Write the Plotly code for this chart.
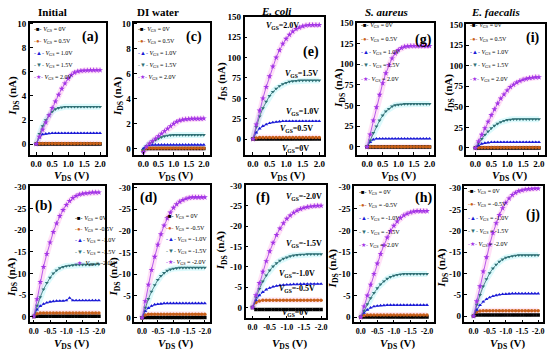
import plotly.graph_objects as go

W, H = 550, 352

VDS_POS = [0.0, 0.1, 0.2, 0.3, 0.4, 0.5, 0.6, 0.7, 0.8, 0.9, 1.0,
           1.1, 1.2, 1.3, 1.4, 1.5, 1.6, 1.7, 1.8, 1.9, 2.0]
VDS_NEG = [0.0, -0.1, -0.2, -0.3, -0.4, -0.5, -0.6, -0.7, -0.8, -0.9, -1.0,
           -1.1, -1.2, -1.3, -1.4, -1.5, -1.6, -1.7, -1.8, -1.9, -2.0]

# ---- (a) Initial, positive V_GS ----
a_0 = [0, 0, 0, 0, 0, 0, 0, 0, 0, 0, 0, 0, 0, 0, 0, 0, 0, 0, 0, 0, 0]
a_05 = [0, 0.05, 0.05, 0.05, 0.05, 0.05, 0.05, 0.05, 0.05, 0.05, 0.05, 0.05, 0.05, 0.05, 0.05, 0.05, 0.05, 0.05, 0.05, 0.05, 0.05]
a_10 = [0, 0.55, 0.8, 0.85, 0.88, 0.9, 0.9, 0.9, 0.9, 0.9, 0.9, 0.9, 0.9, 0.9, 0.9, 0.9, 0.9, 0.9, 0.9, 0.9, 0.9]
a_15 = [0, 0.85, 1.5, 2.0, 2.4, 2.7, 2.9, 3.0, 3.05, 3.1, 3.1, 3.1, 3.1, 3.1, 3.1, 3.1, 3.1, 3.1, 3.1, 3.1, 3.1]
a_20 = [0, 0.6, 1.2, 1.8, 2.4, 3.0, 3.55, 4.1, 4.6, 5.05, 5.45, 5.75, 5.95, 6.05, 6.1, 6.12, 6.13, 6.15, 6.15, 6.15, 6.15]

# ---- (c) DI water, positive V_GS ----
c_0 = [-0.2, 0, 0, 0, 0, 0, 0, 0, 0, 0, 0, 0, 0, 0, 0, 0, 0, 0, 0, 0, 0]
c_05 = [-0.1, 0.02, 0.03, 0.03, 0.03, 0.03, 0.03, 0.03, 0.03, 0.03, 0.03, 0.03, 0.03, 0.03, 0.03, 0.03, 0.03, 0.03, 0.03, 0.03, 0.03]
c_10 = [0, 0.2, 0.28, 0.3, 0.3, 0.3, 0.3, 0.3, 0.3, 0.3, 0.3, 0.3, 0.3, 0.3, 0.3, 0.3, 0.3, 0.3, 0.3, 0.3, 0.3]
c_15 = [-0.1, 0.2, 0.4, 0.55, 0.7, 0.82, 0.92, 1.0, 1.05, 1.08, 1.1, 1.1, 1.1, 1.1, 1.1, 1.1, 1.1, 1.1, 1.1, 1.1, 1.1]
c_20 = [-0.3, 0.15, 0.4, 0.6, 0.8, 1.0, 1.2, 1.4, 1.6, 1.8, 2.0, 2.15, 2.25, 2.32, 2.36, 2.38, 2.4, 2.4, 2.4, 2.4, 2.42]

# ---- (e) E. coli, positive V_GS ----
e_0 = [0, 0, 0, 0, 0, 0, 0, 0, 0, 0, 0, 0, 0, 0, 0, 0, 0, 0, 0, 0, 0]
e_05 = [0, 1.5, 2, 2, 2, 2, 2, 2, 2, 2, 2, 2, 2, 2, 2, 2, 2, 2, 2, 2, 2]
e_10 = [0, 8, 13, 16, 18, 19.5, 20.5, 21, 21.5, 22, 22, 22, 22, 22, 22, 22, 22, 22, 22, 22, 22]
e_15 = [0, 15, 28, 38, 46, 53, 58, 62, 65, 67.5, 69, 70.5, 71, 71.5, 72, 72, 72, 72, 72, 72, 72]
e_20 = [0, 18, 35, 50, 64, 77, 89, 100, 109, 117, 123, 128, 132, 135, 137, 138.5, 139.5, 140, 140, 140, 140]

# ---- (g) S. aureus, positive V_GS ----
g_0 = [0, 0, 0, 0, 0, 0, 0, 0, 0, 0, 0, 0, 0, 0, 0, 0, 0, 0, 0, 0, 0]
g_05 = [0, 0.3, 0.3, 0.3, 0.3, 0.3, 0.3, 0.3, 0.3, 0.3, 0.3, 0.3, 0.3, 0.3, 0.3, 0.3, 0.3, 0.3, 0.3, 0.3, 0.3]
g_10 = [0, 6, 9, 10, 10, 10, 10, 10, 10, 10, 10, 10, 10, 10, 10, 10, 10, 10, 10, 10, 10]
g_15 = [0, 8, 17, 25, 32, 38, 43, 46, 49, 50.5, 51, 51.5, 52, 52, 52, 52, 52, 52, 52, 52, 52]
g_20 = [0, 15, 32, 48, 63, 77, 89, 99, 107, 113, 117, 119.5, 121, 121.5, 122, 122, 122, 122, 122, 122, 122]

# ---- (i) E. faecalis, positive V_GS ----
i_0 = [0, 0, 0, 0, 0, 0, 0, 0, 0, 0, 0, 0, 0, 0, 0, 0, 0, 0, 0, 0, 0]
i_05 = [0, 0.5, 0.5, 0.5, 0.5, 0.5, 0.5, 0.5, 0.5, 0.5, 0.5, 0.5, 0.5, 0.5, 0.5, 0.5, 0.5, 0.5, 0.5, 0.5, 0.5]
i_10 = [0, 3, 5, 6, 6.5, 7, 7, 7, 7, 7, 7, 7, 7, 7, 7, 7, 7, 7, 7, 7, 7]
i_15 = [0, 6, 11, 16, 20, 24, 27, 29.5, 31.5, 33, 34, 34.5, 35, 35, 35, 35, 35, 35, 35, 35, 35]
i_20 = [0, 8, 16, 24, 32, 40, 47, 54, 60, 65, 70, 74, 77, 79.5, 81.5, 83, 84, 85, 85.5, 86, 86]

# ---- (b) Initial, negative V_GS ----
b_0 = [0, -0.05, -0.05, -0.05, -0.05, -0.05, -0.05, -0.05, -0.05, -0.05, -0.05, -0.05, -0.05, -0.05, -0.05, -0.05, -0.05, -0.05, -0.05, -0.05, -0.05]
b_05 = [0, -0.6, -0.8, -0.8, -0.8, -0.8, -0.8, -0.8, -0.8, -0.8, -0.8, -0.8, -0.8, -0.8, -0.8, -0.8, -0.8, -0.8, -0.8, -0.8, -0.8]
b_10 = [0, -1.6, -2.4, -2.9, -3.2, -3.4, -3.5, -3.6, -3.6, -3.6, -3.7, -4.3, -3.7, -3.7, -3.7, -3.7, -3.7, -3.7, -3.7, -3.7, -3.7]
b_15 = [0, -2.5, -4.5, -6.3, -7.8, -9.0, -10.0, -10.7, -11.2, -11.5, -11.7, -11.8, -11.9, -12, -12, -12, -12, -12, -12.1, -12.1, -12.1]
b_20 = [0, -4, -8, -11.5, -14.5, -17.2, -19.6, -21.6, -23.3, -24.7, -25.9, -26.8, -27.5, -28, -28.3, -28.5, -28.6, -28.7, -28.8, -28.8, -28.8]

# ---- (d) DI water, negative V_GS ----
d_0 = [0, -0.05, -0.05, -0.05, -0.05, -0.05, -0.05, -0.05, -0.05, -0.05, -0.05, -0.05, -0.05, -0.05, -0.05, -0.05, -0.05, -0.05, -0.05, -0.05, -0.05]
d_05 = [0, -0.6, -0.8, -0.8, -0.8, -0.8, -0.8, -0.8, -0.8, -0.8, -0.8, -0.8, -0.8, -0.8, -0.8, -0.8, -0.8, -0.8, -0.8, -0.8, -0.8]
d_10 = [0, -1.5, -2.2, -2.7, -3.0, -3.1, -3.2, -3.3, -3.3, -3.3, -3.3, -3.3, -3.3, -3.3, -3.3, -3.3, -3.3, -3.3, -3.3, -3.3, -3.3]
d_15 = [0, -2.3, -4.3, -6, -7.5, -8.7, -9.6, -10.3, -10.8, -11.1, -11.3, -11.4, -11.5, -11.5, -11.5, -11.5, -11.5, -11.5, -11.5, -11.5, -11.5]
d_20 = [0, -3.8, -7.6, -11, -14, -16.8, -19.2, -21.2, -22.9, -24.2, -25.3, -26.1, -26.7, -27.1, -27.4, -27.6, -27.7, -27.7, -27.7, -27.7, -27.7]

# ---- (f) E. coli, negative V_GS ----
f_0 = [0, 0.5, 0.5, 0.5, 0.5, 0.5, 0.5, 0.5, 0.5, 0.5, 0.5, 0.5, 0.5, 0.5, 0.5, 0.5, 0.5, 0.5, 0.5, 0.5, 0.5]
f_05 = [0, -1.2, -1.6, -1.8, -1.8, -1.8, -1.8, -1.8, -1.8, -1.8, -1.8, -1.8, -1.8, -1.8, -1.8, -1.8, -1.8, -1.8, -1.8, -1.8, -1.8]
f_10 = [0, -1.8, -3, -3.8, -4.4, -4.8, -5.1, -5.3, -5.45, -5.55, -5.6, -5.65, -5.7, -5.7, -5.75, -5.75, -5.8, -5.8, -5.8, -5.8, -5.8]
f_15 = [0, -2.5, -4.6, -6.4, -7.9, -9.1, -10.1, -10.9, -11.5, -12, -12.3, -12.6, -12.8, -12.9, -13, -13, -13.1, -13.1, -13.1, -13.1, -13.1]
f_20 = [0, -3, -6, -8.8, -11.4, -13.8, -15.9, -17.8, -19.4, -20.7, -21.8, -22.6, -23.3, -23.8, -24.2, -24.5, -24.7, -24.85, -24.95, -25, -25]

# ---- (h) S. aureus, negative V_GS ----
h_0 = [0, -0.05, -0.05, -0.05, -0.05, -0.05, -0.05, -0.05, -0.05, -0.05, -0.05, -0.05, -0.05, -0.05, -0.05, -0.05, -0.05, -0.05, -0.05, -0.05, -0.05]
h_05 = [0, -0.4, -0.5, -0.5, -0.5, -0.5, -0.5, -0.5, -0.5, -0.5, -0.5, -0.5, -0.5, -0.5, -0.5, -0.5, -0.5, -0.5, -0.5, -0.5, -0.5]
h_10 = [0, -1, -1.7, -2.2, -2.5, -2.6, -2.7, -2.75, -2.8, -2.8, -2.8, -2.8, -2.8, -2.8, -2.8, -2.8, -2.8, -2.8, -2.8, -2.8, -2.8]
h_15 = [0, -1.5, -3, -4.4, -5.6, -6.7, -7.6, -8.3, -8.9, -9.3, -9.6, -9.8, -9.9, -10, -10, -10, -10, -10, -10, -10, -10]
h_20 = [0, -2.5, -5, -7.5, -10, -12.4, -14.6, -16.6, -18.4, -19.9, -21.1, -22.1, -22.9, -23.5, -23.9, -24.2, -24.4, -24.5, -24.5, -24.5, -24.5]

# ---- (j) E. faecalis, negative V_GS ----
j_0 = [0, -0.3, -0.3, -0.3, -0.3, -0.3, -0.3, -0.3, -0.3, -0.3, -0.3, -0.3, -0.3, -0.3, -0.3, -0.3, -0.3, -0.3, -0.3, -0.3, -0.3]
j_05 = [0, -1.0, -1.2, -1.3, -1.3, -1.3, -1.3, -1.3, -1.3, -1.3, -1.3, -1.3, -1.3, -1.3, -1.3, -1.3, -1.3, -1.3, -1.3, -1.3, -1.3]
j_10 = [0, -1.5, -2.6, -3.4, -4, -4.4, -4.7, -4.9, -5.05, -5.15, -5.2, -5.25, -5.3, -5.3, -5.3, -5.3, -5.3, -5.3, -5.3, -5.3, -5.3]
j_15 = [0, -2.7, -5, -7, -8.7, -10.1, -11.2, -12.1, -12.8, -13.3, -13.7, -13.9, -14.1, -14.2, -14.3, -14.3, -14.3, -14.3, -14.3, -14.3, -14.3]
j_20 = [0, -3.5, -7, -10.5, -13.8, -16.8, -19.5, -21.8, -23.7, -25.3, -26.6, -27.6, -28.4, -28.9, -29.3, -29.5, -29.7, -29.8, -29.85, -29.9, -29.9]

LEG_POS = ["0V", "0.5V", "1.0V", "1.5V", "2.0V"]
LEG_NEG = ["0V", "-0.5V", "-1.0V", "-1.5V", "-2.0V"]

XT_POS = [0.0, 0.5, 1.0, 1.5, 2.0]
XT_POS_TXT = ["0.0", "0.5", "1.0", "1.5", "2.0"]
XT_NEG = [0.0, -0.5, -1.0, -1.5, -2.0]
XT_NEG_TXT = ["0.0", "-0.5", "-1.0", "-1.5", "-2.0"]
YT_SMALL = [0, 2, 4, 6, 8, 10]
YT_SMALL_TXT = ["0", "2", "4", "6", "8", "10"]
YT_BIG = [0, 25, 50, 75, 100, 125, 150]
YT_BIG_TXT = ["0", "25", "50", "75", "100", "125", "150"]
YT_NEG = [0, -5, -10, -15, -20, -25, -30]
YT_NEG_TXT = ["0", "-5", "-10", "-15", "-20", "-25", "-30"]

TITLES = ["Initial", "DI water", "<i>E. coli</i>", "<i>S. aureus</i>", "<i>E. faecalis</i>"]

COLORS = ["#000000", "#c8601a", "#1a1ad6", "#2e6f74", "#a436e6"]
SYMBOLS = ["square", "circle", "triangle-up", "triangle-down", "star"]
GLYPHS = ["■", "●", "▲", "▼", "★"]
BANDS = [None, "rgba(255,120,200,0.15)", None, "rgba(80,230,240,0.2)", "rgba(255,80,210,0.17)"]

SERIF = "Liberation Serif"

panels = [
    dict(lab="(a)", data=[a_0, a_05, a_10, a_15, a_20], x=VDS_POS, px=(29, 106, 18, 152),
         xr=[-0.2, 2.2], yr=[-0.9, 10.1], yt=(YT_SMALL, YT_SMALL_TXT), leg=LEG_POS,
         legxy=(31, 25), legdy=12.2, labxy=(90, 32), ytxy=(12, 92)),
    dict(lab="(c)", data=[c_0, c_05, c_10, c_15, c_20], x=VDS_POS, px=(134, 210, 18, 152),
         xr=[-0.3, 2.2], yr=[-0.5, 10.1], yt=(YT_SMALL, YT_SMALL_TXT), leg=LEG_POS,
         legxy=(136, 25), legdy=12.2, labxy=(194, 32), ytxy=(117, 92)),
    dict(lab="(e)", data=[e_0, e_05, e_10, e_15, e_20], x=VDS_POS, px=(245, 325, 12, 152),
         xr=[-0.25, 2.15], yr=[-19.3, 150], yt=(YT_BIG, YT_BIG_TXT), leg=None,
         labxy=(312, 48), ytxy=(222, 78)),
    dict(lab="(g)", data=[g_0, g_05, g_10, g_15, g_20], x=VDS_POS, px=(358, 435, 18, 152),
         xr=[-0.32, 2.13], yr=[-9.5, 150], yt=(YT_BIG, YT_BIG_TXT), leg=LEG_POS,
         legxy=(360, 21), legdy=13.6, labxy=(425, 35), ytxy=(340, 84)),
    dict(lab="(i)", data=[i_0, i_05, i_10, i_15, i_20], x=VDS_POS, px=(468, 547, 19, 152),
         xr=[-0.28, 2.19], yr=[-8.4, 151], yt=(YT_BIG, YT_BIG_TXT), leg=LEG_POS,
         legxy=(470, 21), legdy=13.6, labxy=(535, 33), ytxy=(450, 90)),
    dict(lab="(b)", data=[b_0, b_05, b_10, b_15, b_20], x=VDS_NEG, px=(29, 105, 184, 322),
         xr=[0.12, -2.2], yr=[1.4, -30.2], yt=(YT_NEG, YT_NEG_TXT), leg=LEG_NEG,
         legxy=(72, 217), legdy=11.2, labxy=(43, 204), ytxy=(11, 276)),
    dict(lab="(d)", data=[d_0, d_05, d_10, d_15, d_20], x=VDS_NEG, px=(134, 210, 183, 322),
         xr=[0.25, -2.16], yr=[1.1, -30.45], yt=(YT_NEG, YT_NEG_TXT), leg=LEG_NEG,
         legxy=(164, 215), legdy=11.6, labxy=(148, 196), ytxy=(114, 275)),
    dict(lab="(f)", data=[f_0, f_05, f_10, f_15, f_20], x=VDS_NEG, px=(246, 327, 183, 318),
         xr=[0.2, -2.15], yr=[2.7, -30.0], yt=(YT_NEG, YT_NEG_TXT), leg=None,
         labxy=(263, 196), ytxy=(222, 249)),
    dict(lab="(h)", data=[h_0, h_05, h_10, h_15, h_20], x=VDS_NEG, px=(355, 435, 184, 322),
         xr=[0.2, -2.2], yr=[1.2, -30.2], yt=(YT_NEG, YT_NEG_TXT), leg=LEG_NEG,
         legxy=(358, 190), legdy=13.5, labxy=(425, 196), ytxy=(334, 267)),
    dict(lab="(j)", data=[j_0, j_05, j_10, j_15, j_20], x=VDS_NEG, px=(466, 545, 184, 322),
         xr=[0.28, -2.15], yr=[1.45, -30.4], yt=(YT_NEG, YT_NEG_TXT), leg=LEG_NEG,
         legxy=(468, 189), legdy=13.6, labxy=(535, 213), ytxy=(444, 267)),
]

title_xy = [(52, 7), (158, 7), (277, 6), (388, 7), (497, 7)]

inline_e = [("2.0V", 283, 21), ("1.5V", 302, 70), ("1.0V", 303, 109), ("0.5V", 297, 126), ("0V", 296, 146)]
inline_f = [("-2.0V", 305, 195), ("-1.5V", 305, 242), ("-1.0V", 298, 273), ("-0.5V", 298, 288), ("0V", 296, 312)]


def px2x(p):
    return p / W


def px2y(p):
    return 1 - p / H


def ann(text, x, y, size, xanchor="center", angle=0):
    return dict(text=text, x=px2x(x), y=px2y(y), xref="paper", yref="paper",
                xanchor=xanchor, yanchor="middle", showarrow=False, textangle=angle,
                font=dict(family=SERIF, size=size, color="black"))


fig = go.Figure()
annotations = []
tickfont = dict(family=SERIF, size=9, color="black", weight="bold")
tickfont_negx = dict(family=SERIF, size=8, color="black", weight="bold")

for k, p in enumerate(panels, start=1):
    xa = "x" if k == 1 else f"x{k}"
    ya = "y" if k == 1 else f"y{k}"
    for s, ys in enumerate(p["data"]):
        if BANDS[s] is not None:
            fig.add_trace(go.Scatter(x=p["x"], y=ys, xaxis=xa, yaxis=ya, mode="lines",
                                     line=dict(color=BANDS[s], width=6), showlegend=False,
                                     hoverinfo="skip"))
    for s, ys in enumerate(p["data"]):
        fig.add_trace(go.Scatter(x=p["x"], y=ys, xaxis=xa, yaxis=ya, mode="lines+markers",
                                 line=dict(color=COLORS[s], width=0.8),
                                 marker=dict(symbol=SYMBOLS[s], size=3.5 if s != 4 else 4.5,
                                             color=COLORS[s], line=dict(width=0)),
                                 showlegend=False))
    x0, x1, y0, y1 = p["px"]
    is_pos = p["x"] is VDS_POS
    axx = dict(domain=[px2x(x0), px2x(x1)], range=p["xr"], anchor=ya,
               showline=True, mirror=True, linecolor="black", linewidth=1.5,
               ticks="inside", ticklen=3, tickwidth=1, tickcolor="black",
               tickvals=XT_POS if is_pos else XT_NEG,
               ticktext=XT_POS_TXT if is_pos else XT_NEG_TXT,
               tickangle=0, tickfont=tickfont if is_pos else tickfont_negx,
               showgrid=False, zeroline=False, fixedrange=True)
    axy = dict(domain=[px2y(y1), px2y(y0)], range=p["yr"], anchor=xa,
               showline=True, mirror=True, linecolor="black", linewidth=1.5,
               ticks="inside", ticklen=3, tickwidth=1, tickcolor="black",
               tickvals=p["yt"][0], ticktext=p["yt"][1], tickangle=0,
               tickfont=tickfont, showgrid=False, zeroline=False, fixedrange=True)
    fig.update_layout(**{("xaxis" if k == 1 else f"xaxis{k}"): axx,
                         ("yaxis" if k == 1 else f"yaxis{k}"): axy})

    annotations.append(ann("<b>" + p["lab"] + "</b>", p["labxy"][0], p["labxy"][1], 14))
    annotations.append(ann("<b><i>I</i><sub>DS</sub> (nA)</b>", p["ytxy"][0], p["ytxy"][1], 11, angle=-90))
    xt_y = 173 if y0 < 100 else 344
    annotations.append(ann("<b><i>V</i><sub>DS</sub> (V)</b>", (x0 + x1) / 2 + 4, xt_y, 11))
    if p["leg"] is not None:
        lx, ly = p["legxy"]
        for s, lab in enumerate(p["leg"]):
            annotations.append(ann(
                f"<span style='color:{COLORS[s]}'>-{GLYPHS[s]}-</span> <i>V</i><sub>GS</sub> = {lab}",
                lx, ly + s * p["legdy"], 6, xanchor="left"))

for t, (tx, ty) in zip(TITLES, title_xy):
    annotations.append(ann("<b>" + t + "</b>", tx, ty, 11))

for lab, tx, ty in inline_e + inline_f:
    annotations.append(ann(f"<b><i>V</i><sub>GS</sub>={lab}</b>", tx, ty, 8))

fig.update_layout(width=W, height=H, margin=dict(l=0, r=0, t=0, b=0),
                  paper_bgcolor="white", plot_bgcolor="white", showlegend=False,
                  annotations=annotations)

fig.write_html("out.html", config={"displayModeBar": False},
               post_script="document.body.style.margin='0';document.body.style.overflow='hidden';")
